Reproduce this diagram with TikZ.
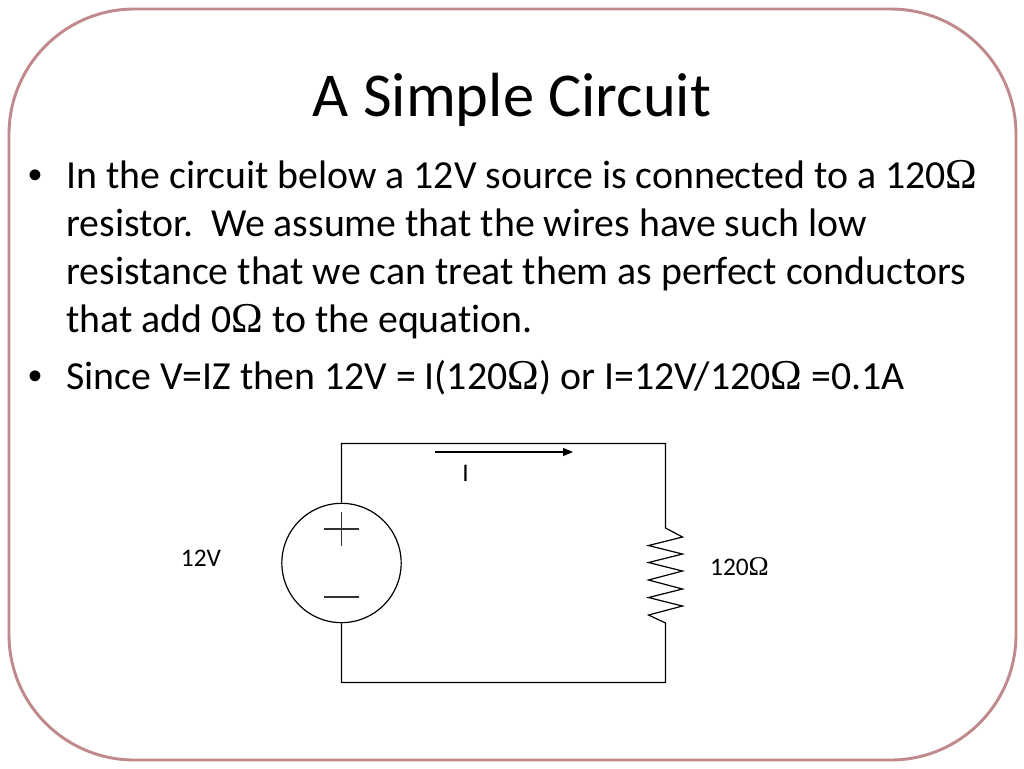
\documentclass[tikz,border=0pt]{standalone}
\usepackage{fontspec}
\setmainfont[Ligatures=NoCommon]{Carlito}
\newfontfamily\omegafont[Scale=1.07]{Liberation Serif}
\newfontfamily\bulletfont{Liberation Sans}
\usetikzlibrary{arrows.meta}
\newcommand{\ohm}{{\omegafont Ω}}
\tikzset{
  x=0.75pt,y=-0.75pt,
  titletext/.style={anchor=base,inner sep=0pt,font=\fontsize{46.8}{46.8}\selectfont,text=black},
  bodytext/.style={anchor=base west,inner sep=0pt,font=\fontsize{29.85}{29.85}\selectfont,text=black},
  smalltext/.style={anchor=base,inner sep=0pt,font=\fontsize{19}{19}\selectfont,text=black},
  wire/.style={draw=black,line width=0.9pt},
  arrowline/.style={draw=black,line width=0.8pt,-{Triangle[length=7.5pt,width=6pt]}},
  thin mark/.style={draw=black!80,line width=0.8pt},
  frame/.style={draw=framecol,line width=2.2pt,rounded corners=94pt}
}
\definecolor{framecol}{HTML}{C08A8C}
\begin{document}
\begin{tikzpicture}
\useasboundingbox (0,0) rectangle (1024,768);
\fill[white] (0,0) rectangle (1024,768);
\draw[frame] (9,9) rectangle (1016,760);
\node[titletext] (title) at (512,116.5) {A Simple Circuit};
\node[bodytext] (b1) at (28,188.5) {\bulletfont •};
\node[bodytext] (l1) at (66,188.5) {In the circuit below a 12V source is connected to a 120\ohm};
\node[bodytext] (l2) at (66,236.5) {resistor.\ \ We assume that the wires have such low};
\node[bodytext] (l3) at (66,284.5) {resistance that we can treat them as perfect conductors};
\node[bodytext] (l4) at (66,332.5) {that add 0\ohm{} to the equation.};
\node[bodytext] (b2) at (28,389.5) {\bulletfont •};
\node[bodytext] (l5) at (66,389.5) {Since V=IZ then 12V = I(120\ohm) or I=12V/120\ohm{} =0.1A};
% circuit
\node[circle,draw=black,line width=0.9pt,minimum size=89.5pt,inner sep=0pt] (src) at (341.5,563) {};
\coordinate (tl) at (341.5,443.5);
\coordinate (tr) at (665.5,443.5);
\coordinate (bl) at (341.5,682.5);
\coordinate (br) at (665.5,682.5);
\coordinate (rtop) at (665.5,528);
\coordinate (rbot) at (665.5,623);
\draw[wire] (src.north) -- (tl) -- (tr) -- (rtop)
  -- (682.5,537) -- (648.5,545.5) -- (682.5,554) -- (648.5,562.5) -- (682.5,571)
  -- (648.5,580) -- (682.5,589) -- (648.5,597.5) -- (682.5,606) -- (648.5,615)
  -- (rbot) -- (br) -- (bl) -- (src.south);
\coordinate (pw) at (324,529); \coordinate (pe) at (358.5,529);
\coordinate (pn) at (341.5,512); \coordinate (ps) at (341.5,546);
\coordinate (mw) at (324,597); \coordinate (me) at (358.5,597);
\draw[thin mark] (pw) -- (pe);
\draw[thin mark] (pn) -- (ps);
\draw[thin mark] (mw) -- (me);
\coordinate (as) at (435,452);
\coordinate (ae) at (573,452);
\draw[arrowline] (as) -- (ae);
\node[smalltext] (ilabel) at (465.5,481) {I};
\node[smalltext] (vlabel) at (201,566) {12V};
\node[smalltext] (rlabel) at (739.5,575) {120\ohm};
\end{tikzpicture}
\end{document}
